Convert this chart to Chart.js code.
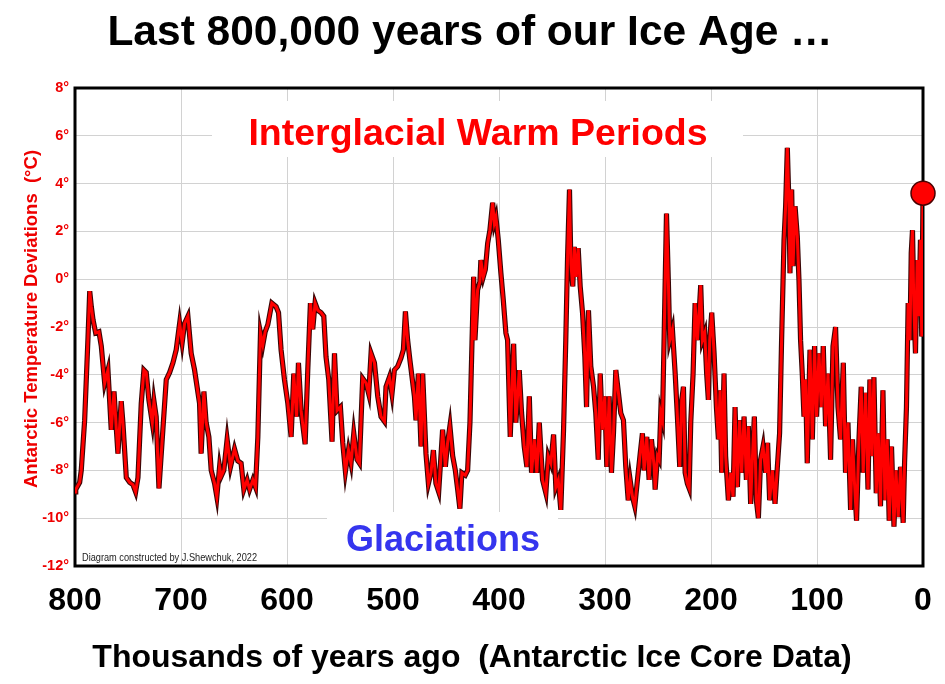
<!DOCTYPE html>
<html>
<head>
<meta charset="utf-8">
<script src="https://cdn.jsdelivr.net/npm/chart.js@4.4.1/dist/chart.umd.min.js"></script>
<style>
  html, body { margin: 0; padding: 0; background: #ffffff; }
  #wrap { width: 945px; height: 684px; }
</style>
</head>
<body>
<div id="wrap"><canvas id="c" width="945" height="684"></canvas></div>
<script>
// ---- data (thousands of years ago, Antarctic temperature deviation °C) ----
const ages = [
  800, 799.3, 795.6, 794.1, 790.9, 787.7, 786.1, 784.6, 783.0, 780.5,
  777.4, 775.2, 772.0, 768.9, 765.8, 763.2, 761.1, 759.5, 756.4, 754.8,
  751.6, 748.4, 745.3, 742.8, 740.6, 737.5, 735.0, 732.8, 730.3, 727.1,
  725.5, 723.4, 720.8, 717.1, 713.9, 710.7, 707.6, 704.5, 701.3, 698.9,
  696.6, 693.5, 690.4, 687.2, 682.5, 681.0, 678.4, 676.3, 673.7, 671.5,
  668.3, 666.2, 663.6,
  662.1, 659.6, 656.5, 653.3, 649.5, 646.4, 643.3, 640.7, 637.6, 635.3,
  632.2, 629.7, 627.5, 625.0, 622.8, 620.6, 618.1, 614.3, 610.3, 608.0,
  605.6, 602.4, 599.2, 596.1, 593.6, 591.0, 589.2, 586.7, 582.9, 580.4,
  577.9, 575.7, 573.5, 571.0, 567.9, 565.3, 563.2, 560.6, 557.5, 555.2,
  552.8, 549.6, 547.4, 544.9, 542.0, 539.6, 537.0, 533.9, 531.7, 528.6,
  525.4,
  522.9, 520.7, 517.5, 514.4, 511.3, 508.1, 506.6, 503.4, 501.0, 498.7,
  495.6, 492.5, 490.2, 488.3, 486.2, 484.0, 479.8, 478.3, 476.1, 473.6,
  472.0, 468.9, 466.6, 464.2, 461.9, 459.5, 456.9, 453.2, 450.6, 448.5,
  446.3, 443.7, 441.2, 439.0, 436.9, 435.0, 431.8, 429.6, 427.4, 425.5,
  423.9, 422.7, 420.2, 418.0, 417.1, 414.8, 412.9, 410.7, 408.6, 406.0,
  404.4, 402.9, 400.7, 398.2, 396.0, 393.5, 391.9,
  389.4, 386.2, 384.1, 380.9, 378.7, 376.2, 373.7, 371.4, 369.3, 366.7,
  364.3, 362.0, 358.9, 355.8, 353.5, 351.1, 348.5, 346.4, 344.1, 341.7,
  339.1, 337.0, 335.3, 333.5, 332.2, 330.4, 329.0, 327.1, 325.3, 323.4,
  321.2, 319.0, 317.4, 315.6, 313.4, 310.8, 308.7, 306.4, 304.5, 302.4,
  300.2, 298.3, 296.1, 293.9, 292.0, 289.8, 287.6, 285.1, 282.6, 280.4,
  278.1, 276.3, 274.1, 271.9, 269.4, 266.8, 264.7, 263.1, 260.6, 258.4,
  256.2, 253.6,
  252.7, 250.5, 248.9, 247.4, 245.8, 244.2, 242.0, 240.2, 238.9, 236.4,
  233.8, 231.7, 229.5, 227.6, 226.0, 224.4, 222.3, 220.6, 219.1, 216.9,
  215.0, 212.8, 211.2, 209.7, 208.1, 205.9, 204.1, 202.5, 201.2, 199.3,
  197.1, 194.9, 193.0, 191.4, 189.9, 187.7, 186.2, 183.6, 181.4, 179.2,
  177.3, 175.1, 173.0, 171.1, 168.8, 166.6, 164.8, 162.6, 161.0, 159.1,
  157.2, 155.3, 153.2, 150.9, 148.4, 146.6, 144.7, 142.1, 139.6, 137.4,
  135.3, 133.4, 131.1, 129.6, 128.0, 126.4, 125.5, 123.9, 122.6, 120.7,
  118.6,
  117.0, 115.5, 113.9, 112.3, 110.8, 109.2, 106.6, 104.4, 102.3, 100.4,
  98.1, 96.0, 94.1, 91.9, 89.6, 87.2, 84.9, 82.5, 80.2, 77.8,
  75.2, 73.1, 70.8, 68.3, 66.5, 64.6, 62.7, 60.4, 58.3, 56.4,
  54.2, 51.9, 50.1, 48.2, 46.3, 44.1, 42.2, 40.1, 37.8, 35.9,
  33.8, 31.9, 29.7, 27.4, 25.5, 23.4, 21.2, 18.7, 17.4, 15.6,
  14.0, 12.3, 11.1, 9.9, 8.6, 7.1, 5.5, 3.9, 2.4, 1.2,
  0
];
const temps = [
  -8.9, -8.8, -8.5, -8.0, -5.9, -2.4, -0.5, -1.15, -1.7, -2.25,
  -2.2, -2.8, -4.35, -3.8, -6.3, -4.7, -6.2, -7.3, -5.1, -6.0,
  -8.3, -8.5, -8.6, -8.9, -8.3, -5.2, -3.8, -3.9, -5.05, -6.0,
  -5.1, -5.75, -8.75, -6.3, -4.2, -3.9, -3.5, -2.95, -1.85, -2.65,
  -1.85, -1.55, -3.1, -3.8, -5.2, -7.3, -4.7, -6.0, -6.6, -8.0,
  -8.55, -9.1, -7.85,
  -8.25, -8.0, -6.7, -7.85, -7.1, -7.6, -7.7, -8.8, -8.4, -8.8,
  -8.4, -8.7, -6.6, -2.25, -2.75, -2.2, -1.9, -1.0, -1.15, -1.4,
  -2.95, -4.2, -5.2, -6.6, -3.95, -5.75, -3.5, -5.5, -6.9, -3.8,
  -1.0, -2.1, -1.0, -1.3, -1.4, -1.55, -3.25, -4.2, -6.8, -3.1,
  -5.5, -5.35, -6.85, -8.05, -7.15, -7.7, -6.45, -7.55, -7.7, -4.15,
  -4.35,
  -4.8, -3.1, -3.5, -4.9, -5.75, -5.95, -4.5, -4.1, -4.8, -3.8,
  -3.65, -3.3, -2.95, -1.35, -2.55, -3.4, -4.9, -5.9, -3.95, -7.0,
  -3.95, -7.3, -8.55, -8.1, -7.15, -8.55, -8.9, -6.3, -7.85, -6.85,
  -6.15, -7.4, -8.0, -8.8, -9.6, -8.1, -8.2, -8.0, -6.0, -2.7,
  0.1, -2.55, -0.45, -0.1, 0.8, 0.1, 0.4, 1.5, 2.05, 3.2,
  2.35, 2.6, 1.65, 0.25, -0.85, -2.25, -2.55,
  -6.6, -2.7, -6.0, -3.8, -5.6, -7.0, -7.85, -4.9, -8.1, -6.7,
  -8.1, -6.0, -8.4, -8.95, -7.4, -7.7, -6.5, -8.7, -8.4, -9.65,
  -6.3, -2.55, 0.95, 3.75, 0.65, -0.3, 1.35, 0.1, 1.3, -0.3,
  -1.4, -3.25, -5.35, -1.3, -3.65, -4.5, -5.6, -7.55, -3.95, -6.3,
  -4.9, -7.85, -4.9, -8.1, -6.45, -3.8, -4.65, -5.6, -5.9, -7.85,
  -9.25, -8.4, -9.1, -9.5, -8.4, -7.3, -6.45, -8.0, -6.6, -8.4,
  -6.7, -7.85,
  -8.8, -7.4, -7.55, -5.6, -5.9, -2.4, 2.75, -0.15, -2.55, -2.1,
  -3.95, -5.75, -7.85, -5.05, -4.5, -8.1, -8.55, -8.75, -6.0, -3.95,
  -1.0, -2.55, -1.4, -0.25, -2.55, -2.25, -3.95, -5.05, -2.55, -1.4,
  -3.1, -5.35, -6.7, -4.65, -8.1, -3.95, -7.4, -9.25, -8.1, -9.1,
  -5.35, -8.7, -5.9, -8.1, -5.75, -8.4, -6.15, -9.4, -7.55, -5.75,
  -9.25, -10.0, -7.55, -7.0, -8.1, -6.85, -9.25, -8.0, -9.4, -7.85,
  -6.45, -2.55, 1.65, 3.05, 5.5, 3.05, 0.25, 3.75, 0.55, 3.05,
  1.8,
  -0.05, -2.55, -3.95, -5.75, -4.2, -7.7, -2.95, -6.7, -2.8, -5.75,
  -3.1, -5.35, -2.8, -6.15, -3.95, -7.55, -2.8, -2.0, -5.35, -6.7,
  -3.5, -8.1, -6.0, -9.65, -6.7, -8.55, -10.1, -6.7, -4.5, -8.1,
  -4.75, -8.8, -4.2, -7.4, -4.1, -8.95, -6.45, -9.5, -4.65, -9.25,
  -6.7, -10.1, -7.0, -10.35, -8.0, -9.95, -7.85, -10.2, -7.7, -5.35,
  -1.0, -2.55, 1.1, 2.05, -1.15, -3.1, 0.8, -1.55, 1.65, -2.4,
  3.6
];
// axis ticks
const xTicks = [800, 700, 600, 500, 400, 300, 200, 100, 0];
const yTicks = [8, 6, 4, 2, 0, -2, -4, -6, -8, -10, -12];

// ---- texts ----
const titleText = 'Last 800,000 years of our Ice Age …';
const xTitle = 'Thousands of years ago  (Antarctic Ice Core Data)';
const yTitle = 'Antarctic Temperature Deviations  (°C)';
const warmLabel = 'Interglacial Warm Periods';
const coldLabel = 'Glaciations';
const credit = 'Diagram constructed by J.Shewchuk, 2022';

const FONT = "'Liberation Sans', Arial, Helvetica, sans-serif";
Chart.defaults.font.family = FONT;

const n = Math.min(ages.length, temps.length);
const series = [];
for (let i = 0; i < n; i++) series.push({ x: ages[i], y: temps[i] });
const present = [{ x: ages[n - 1], y: temps[n - 1] }];

const decor = {
  id: 'decor',
  beforeDatasetsDraw(chart) {
    const { ctx, chartArea: a } = chart;
    ctx.save();
    // white label boxes hiding the grid
    ctx.fillStyle = '#ffffff';
    ctx.fillRect(212, 101, 531, 56);
    ctx.fillRect(327, 512, 231, a.bottom - 512);
    // labels inside the plot
    ctx.textAlign = 'center';
    ctx.textBaseline = 'alphabetic';
    ctx.fillStyle = '#ff0000';
    ctx.font = 'bold 37.5px ' + FONT;
    ctx.fillText(warmLabel, 478, 145);
    ctx.fillStyle = '#3535ee';
    ctx.font = 'bold 36px ' + FONT;
    ctx.fillText(coldLabel, 443, 551);
    // credit (condensed)
    ctx.fillStyle = '#222222';
    ctx.font = "11.5px 'Liberation Sans Narrow', 'Liberation Sans', Arial, sans-serif";
    ctx.textAlign = 'left';
    const w = ctx.measureText(credit).width;
    ctx.translate(82, 561);
    ctx.scale(175 / w, 1);
    ctx.fillText(credit, 0, 0);
    ctx.restore();

    // chart title and axis titles
    ctx.save();
    ctx.textAlign = 'center';
    ctx.textBaseline = 'middle';
    ctx.fillStyle = '#000000';
    ctx.font = 'bold 42.5px ' + FONT;
    ctx.fillText(titleText, 470, 33);
    ctx.font = 'bold 32px ' + FONT;
    ctx.fillText(xTitle, 472, 658);
    ctx.translate(32, 319);
    ctx.rotate(-Math.PI / 2);
    ctx.fillStyle = '#ee0000';
    ctx.font = 'bold 18.5px ' + FONT;
    ctx.fillText(yTitle, 0, 0);
    ctx.restore();

    // plot frame
    ctx.save();
    ctx.strokeStyle = '#000000';
    ctx.lineWidth = 3;
    ctx.strokeRect(a.left, a.top, a.right - a.left, a.bottom - a.top);
    ctx.restore();
  }
};

new Chart(document.getElementById('c'), {
  type: 'line',
  data: {
    datasets: [
      { data: present, showLine: false, clip: false, pointRadius: 12, pointHoverRadius: 12,
        pointBackgroundColor: '#ff0000', pointBorderColor: '#4a0000', pointBorderWidth: 1.5, order: 0 },
      { data: series, borderColor: '#ff0000', borderWidth: 3, pointRadius: 0, tension: 0, order: 1 },
      { data: series, borderColor: '#3a0505', borderWidth: 5.2, pointRadius: 0, tension: 0, order: 2 }
    ]
  },
  options: {
    responsive: false,
    animation: false,
    layout: { padding: { left: 0, right: 22, top: 88, bottom: 0 } },
    plugins: {
      legend: { display: false },
      tooltip: { enabled: false },
      title: { display: false }
    },
    scales: {
      x: {
        type: 'linear',
        reverse: true,
        min: 0,
        max: 800,
        afterFit(s) { s.height = 118; },
        afterBuildTicks(s) { s.ticks = xTicks.map(v => ({ value: v })); },
        ticks: {
          autoSkip: false,
          maxRotation: 0,
          padding: 0,
          color: '#000000',
          font: { size: 32, weight: 'bold', family: FONT },
          callback: v => String(v)
        },
        grid: { color: '#d2d2d2', lineWidth: 1, drawTicks: true, tickLength: 16, tickColor: 'rgba(0,0,0,0)' },
        border: { display: false },
        title: { display: false }
      },
      y: {
        min: -12,
        max: 8,
        afterFit(s) { s.width = 75; },
        afterBuildTicks(s) { s.ticks = yTicks.map(v => ({ value: v })); },
        ticks: {
          padding: 6,
          color: '#ee0000',
          font: { size: 14.5, weight: 'bold', family: FONT },
          callback: v => v + '°'
        },
        grid: { color: '#d2d2d2', lineWidth: 1, drawTicks: false },
        border: { display: false },
        title: { display: false }
      }
    }
  },
  plugins: [decor]
});
</script>
</body>
</html>
